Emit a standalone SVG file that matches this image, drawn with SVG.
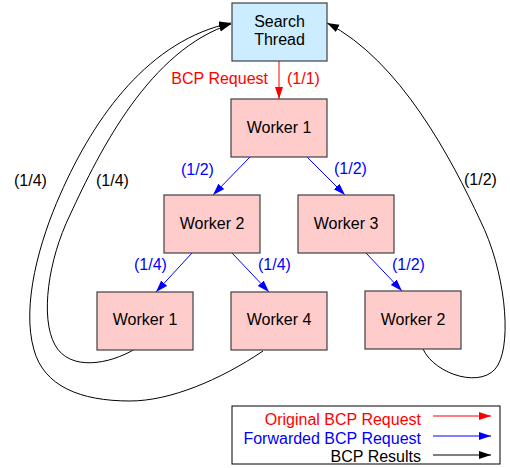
<svg xmlns="http://www.w3.org/2000/svg" width="510" height="468" viewBox="0 0 510 468">
  <style>
    text { font-family: "Liberation Sans", Arial, sans-serif; font-size: 16px; }
    .box { stroke: #404040; stroke-width: 1.2; }
    .thread { fill: #CCECFF; }
    .worker { fill: #FFCCCC; }
    .lbl { text-anchor: middle; fill: #000; }
    .red { fill: #FF0000; }
    .blue { fill: #0000FF; }
    .blk { fill: #000; }
    .req { stroke: #FF0000; stroke-width: 1; fill: none; }
    .fwd { stroke: #0000FF; stroke-width: 1; fill: none; }
    .res { stroke: #000; stroke-width: 1; fill: none; }
  </style>
  <defs>
    <marker id="arrRed" markerUnits="userSpaceOnUse" markerWidth="13" markerHeight="9" refX="12" refY="4" orient="auto">
      <path d="M0,0 L12,4 L0,8 z" fill="#FF0000"/>
    </marker>
    <marker id="arrBlue" markerUnits="userSpaceOnUse" markerWidth="13" markerHeight="9" refX="12" refY="4" orient="auto">
      <path d="M0,0 L12,4 L0,8 z" fill="#0000FF"/>
    </marker>
    <marker id="arrBlack" markerUnits="userSpaceOnUse" markerWidth="13" markerHeight="9" refX="12" refY="4" orient="auto">
      <path d="M0,0 L12,4 L0,8 z" fill="#000"/>
    </marker>
  </defs>

  <!-- connectors -->
  <g id="connectors">
    <!-- original request -->
    <line class="req" x1="279" y1="61" x2="279" y2="99" marker-end="url(#arrRed)"/>
    <!-- forwarded requests -->
    <line class="fwd" x1="250" y1="157" x2="213" y2="195" marker-end="url(#arrBlue)"/>
    <line class="fwd" x1="307" y1="157" x2="345" y2="195" marker-end="url(#arrBlue)"/>
    <line class="fwd" x1="192" y1="253" x2="156" y2="292" marker-end="url(#arrBlue)"/>
    <line class="fwd" x1="232" y1="253" x2="269" y2="292" marker-end="url(#arrBlue)"/>
    <line class="fwd" x1="366" y1="253" x2="402" y2="291" marker-end="url(#arrBlue)"/>
    <!-- results back to the search thread -->
    <path class="res" d="M135,349 C110,364 70,372 55,345 C40,318 48,260 70,215 C100,150 150,50 231,24" marker-end="url(#arrBlack)"/>
    <path class="res" d="M263,351 C220,380 170,401 130,401 C80,401 44,386 34,350 C21,305 40,240 60,195 C95,115 150,40 231,23" marker-end="url(#arrBlack)"/>
    <path class="res" d="M423,349 C435,375 484,390 498,365 C512,340 505,270 480,220 C452,160 400,60 327,23" marker-end="url(#arrBlack)"/>

    <!-- connector labels -->
    <text class="red" x="268" y="84" text-anchor="end">BCP Request</text>
    <text class="red" x="287" y="84">(1/1)</text>
    <text class="blue" x="181" y="175">(1/2)</text>
    <text class="blue" x="334" y="174">(1/2)</text>
    <text class="blue" x="134" y="270">(1/4)</text>
    <text class="blue" x="258" y="270">(1/4)</text>
    <text class="blue" x="392" y="270">(1/2)</text>
    <text class="blk" x="14" y="186">(1/4)</text>
    <text class="blk" x="96" y="186">(1/4)</text>
    <text class="blk" x="464" y="185">(1/2)</text>
  </g>

  <!-- nodes -->
  <g id="search-thread">
    <rect class="box thread" x="232" y="3" width="95" height="58"/>
    <text class="lbl" x="279.5" y="27">Search</text>
    <text class="lbl" x="279.5" y="45">Thread</text>
  </g>
  <g id="worker1-top">
    <rect class="box worker" x="231" y="99" width="96" height="58"/>
    <text class="lbl" x="279" y="133">Worker 1</text>
  </g>
  <g id="worker2-mid">
    <rect class="box worker" x="164" y="195" width="96" height="58"/>
    <text class="lbl" x="212" y="229">Worker 2</text>
  </g>
  <g id="worker3">
    <rect class="box worker" x="298" y="195" width="96" height="58"/>
    <text class="lbl" x="346" y="229">Worker 3</text>
  </g>
  <g id="worker1-bottom">
    <rect class="box worker" x="97" y="292" width="96" height="58"/>
    <text class="lbl" x="145" y="325">Worker 1</text>
  </g>
  <g id="worker4">
    <rect class="box worker" x="231" y="292" width="96" height="58"/>
    <text class="lbl" x="279" y="325">Worker 4</text>
  </g>
  <g id="worker2-bottom">
    <rect class="box worker" x="365" y="291" width="96" height="58"/>
    <text class="lbl" x="413" y="325">Worker 2</text>
  </g>

  <!-- legend -->
  <g id="legend">
    <rect x="232" y="406" width="268" height="58" fill="#fff" stroke="#000" stroke-width="1"/>
    <text class="red" x="421" y="425" text-anchor="end">Original BCP Request</text>
    <text class="blue" x="421" y="444" text-anchor="end">Forwarded BCP Request</text>
    <text class="blk" x="421" y="462" text-anchor="end">BCP Results</text>
    <line class="req" x1="433" y1="416" x2="491" y2="416" marker-end="url(#arrRed)"/>
    <line class="fwd" x1="433" y1="436" x2="491" y2="436" marker-end="url(#arrBlue)"/>
    <line class="res" x1="433" y1="455" x2="491" y2="455" marker-end="url(#arrBlack)"/>
  </g>
</svg>
